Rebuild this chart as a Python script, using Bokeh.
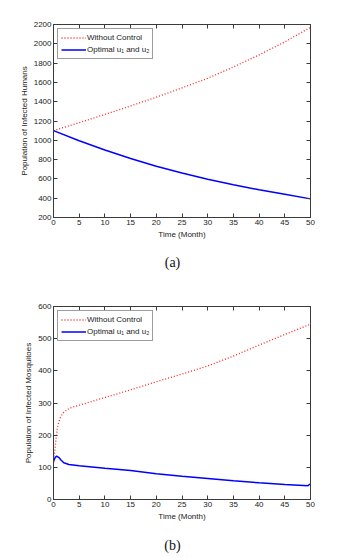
from bokeh.plotting import figure
from bokeh.models import LinearAxis, FixedTicker, Range1d, Legend, LegendItem, CustomJSTickFormatter, Div
from bokeh.layouts import column
from bokeh.embed import file_html
from bokeh.resources import INLINE

# ---- data (a): infected humans ----
t_a = [0, 5, 10, 15, 20, 25, 30, 35, 40, 45, 50]
humans_no_control = [1100, 1183, 1268, 1356, 1447, 1543, 1643, 1760, 1885, 2020, 2170]
humans_optimal = [1100, 995, 900, 812, 732, 661, 597, 539, 487, 440, 393]

# ---- data (b): infected mosquitoes ----
t_b_red = [0, 0.25, 0.5, 0.75, 1, 1.25, 1.5, 2, 3, 4, 5, 10, 15, 20, 25, 30, 35, 40, 45, 50]
mosq_no_control = [115, 150, 190, 222, 240, 252, 260, 271, 283, 289, 293, 317, 341, 366,
                   390, 415, 446, 480, 513, 545]
t_b_blue = [0, 0.3, 0.6, 1, 1.5, 2, 3, 5, 10, 15, 20, 25, 30, 35, 40, 45, 49.5, 50]
mosq_optimal = [118, 130, 135, 131, 122, 114, 109, 105, 97, 90, 80, 72, 65, 58, 52, 47, 43, 49]

x_ticks = [0, 5, 10, 15, 20, 25, 30, 35, 40, 45, 50]
y_ticks_a = [200, 400, 600, 800, 1000, 1200, 1400, 1600, 1800, 2000, 2200]
y_ticks_b = [0, 100, 200, 300, 400, 500, 600]

FONT = "Liberation Sans"
AX = "#3a3a3a"


def style_axis(ax, show_labels=True):
    ax.major_tick_in = 4
    ax.major_tick_out = 0
    ax.minor_tick_line_color = None
    ax.axis_line_color = AX
    ax.major_tick_line_color = AX
    ax.major_label_text_font = FONT
    ax.major_label_text_font_size = "8px"
    ax.major_label_text_color = "#222222"
    ax.major_label_standoff = 2
    ax.axis_label_text_font = FONT
    ax.axis_label_text_font_size = "8px"
    ax.axis_label_text_font_style = "normal"
    ax.axis_label_text_color = "#222222"
    ax.axis_label_standoff = 2
    if not show_labels:
        ax.formatter = CustomJSTickFormatter(code="return ''")
        ax.major_label_standoff = 0
        ax.major_label_text_font_size = "1px"


def make_panel(height, top, bottom, yr, yticks, ylabel, tr, yr_vals, tb, yb_vals):
    p = figure(width=340, height=height, output_backend="svg", toolbar_location=None,
               x_range=Range1d(0, 50), y_range=Range1d(*yr),
               min_border_left=53, min_border_right=30, min_border_top=top,
               min_border_bottom=bottom)
    p.xgrid.grid_line_color = None
    p.ygrid.grid_line_color = None
    p.outline_line_color = AX
    p.xaxis.ticker = FixedTicker(ticks=x_ticks)
    p.yaxis.ticker = FixedTicker(ticks=yticks)
    p.xaxis.axis_label = "Time (Month)"
    p.yaxis.axis_label = ylabel
    style_axis(p.xaxis[0])
    style_axis(p.yaxis[0])
    ra = LinearAxis(ticker=FixedTicker(ticks=yticks))
    ta = LinearAxis(ticker=FixedTicker(ticks=x_ticks))
    style_axis(ra, False)
    style_axis(ta, False)
    p.add_layout(ra, "right")
    p.add_layout(ta, "above")

    r1 = p.line(tr, yr_vals, line_color="#ff2020", line_width=1.3, line_dash="1 2")
    r2 = p.line(tb, yb_vals, line_color="#0000ff", line_width=1.5)
    leg = Legend(items=[LegendItem(label="Without Control", renderers=[r1]),
                        LegendItem(label="Optimal u\u2081 and u\u2082", renderers=[r2])],
                 location="top_left")
    leg.label_text_font = FONT
    leg.label_text_font_size = "8px"
    leg.label_text_color = "#222222"
    leg.label_standoff = 1
    leg.glyph_width = 25
    leg.glyph_height = 11
    leg.label_height = 11
    leg.spacing = 1
    leg.padding = 3
    leg.margin = 4
    leg.border_line_color = AX
    leg.border_line_width = 1
    p.add_layout(leg, "center")
    return p


def caption(text, height, pad):
    style = ("text-align:center;font-family:'Liberation Serif';font-size:14px;color:#111;"
             f"width:345px;padding-top:{pad}px;line-height:14px;margin:0")
    return Div(text=f'<div style="{style}">{text}</div>', width=345, height=height, margin=0)


p1 = make_panel(242, 24, 25, (200, 2200), y_ticks_a, "Population of Infected Humans",
                t_a, humans_no_control, t_a, humans_optimal)
p2 = make_panel(249, 26, 30, (0, 600), y_ticks_b, "Population of Infected Mosquitoes",
                t_b_red, mosq_no_control, t_b_blue, mosq_optimal)

layout = column(p1, caption("(a)", 38, 14), p2, caption("(b)", 29, 10))
open("out.html", "w").write(file_html(layout, INLINE))
